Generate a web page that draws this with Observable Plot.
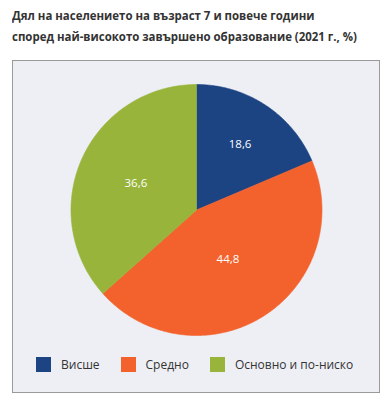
<!DOCTYPE html>
<html><head><meta charset="utf-8">
<script src="https://cdn.jsdelivr.net/npm/d3@7"></script>
<script src="https://cdn.jsdelivr.net/npm/@observablehq/plot@0.6"></script>
<style>
body{margin:0;width:390px;height:408px;position:relative;background:#fff;font-family:"Open Sans",sans-serif;overflow:hidden}
#title{position:absolute;left:12px;top:5px;font-weight:bold;font-size:12px;line-height:21px;color:#333;white-space:nowrap;transform-origin:0 0}
#title div{display:inline-block}
#box{position:absolute;left:12px;top:60px;width:366px;height:331px;background:#eeeff5;border:1px solid #999}
#chart{position:absolute;left:0;top:0}
#legend{position:absolute;left:23px;top:295px}
.lg-swatches{font-family:"Open Sans",sans-serif !important;font-size:12px !important;color:#333 !important;margin:0 !important}
.lg-swatches-wrap{min-height:15px !important}
.lg-swatch{margin-right:21px !important}
.lg-swatch > svg{margin-right:10px !important}
</style></head><body>
<div id="title"><div id="t1"></div><br><div id="t2"></div></div>
<div id="box"><div id="chart"></div><div id="legend"></div></div>
<script>
const titleLines = ["Дял на населението на възраст 7 и повече години", "според най-високото завършено образование (2021 г., %)"];
const categories = ["Висше", "Средно", "Основно и по-ниско"];
const values = [18.6, 44.8, 36.6];
const valueLabels = ["18,6", "44,8", "36,6"];
const colors = ["#1c4382", "#f3622d", "#98b43b"];

// title
document.getElementById("t1").textContent = titleLines[0];
document.getElementById("t2").textContent = titleLines[1];
const t2w = document.getElementById("t2").getBoundingClientRect().width;
document.getElementById("title").style.transform = `scaleX(${345 / t2w})`;

// pie geometry
const W = 366, H = 290, cx = 183, cy = 148.5, R = 125.5;
const data = categories.map((c, i) => ({cat: c, value: values[i], label: valueLabels[i]}));
const arcs = d3.pie().sort(null).value(d => d.value)(data);
const pts = [];
const labs = [];
for (const a of arcs) {
  pts.push({cat: a.data.cat, x: 0, y: 0});
  const n = Math.max(2, Math.ceil((a.endAngle - a.startAngle) / 0.01));
  for (let k = 0; k <= n; k++) {
    const t = a.startAngle + (a.endAngle - a.startAngle) * k / n;
    pts.push({cat: a.data.cat, x: Math.sin(t), y: Math.cos(t)});
  }
  pts.push({cat: a.data.cat, x: 0, y: 0});
  const h = (a.endAngle - a.startAngle) / 2;
  const m = (a.startAngle + a.endAngle) / 2;
  const r = (2 / 3) * Math.sin(h) / h;
  labs.push({x: r * Math.sin(m), y: r * Math.cos(m), text: a.data.label});
}

const chart = Plot.plot({
  width: W, height: H,
  style: {background: "transparent", overflow: "visible"},
  x: {domain: [-1, 1], range: [cx - R, cx + R], axis: null},
  y: {domain: [-1, 1], range: [cy + R, cy - R], axis: null},
  color: {domain: categories, range: colors},
  marks: [
    Plot.line(pts, {x: "x", y: "y", z: "cat", fill: "cat", stroke: "cat", strokeWidth: 0.6}),
    Plot.text(labs, {x: "x", y: "y", text: "text", fill: "white", fontSize: 11.5, fontFamily: "'Open Sans', sans-serif"})
  ]
});
document.getElementById("chart").appendChild(chart);

const legend = Plot.legend({
  color: {type: "ordinal", domain: categories, range: colors},
  legend: "swatches", swatchSize: 15, className: "lg"
});
document.getElementById("legend").appendChild(legend);
</script>
</body></html>
